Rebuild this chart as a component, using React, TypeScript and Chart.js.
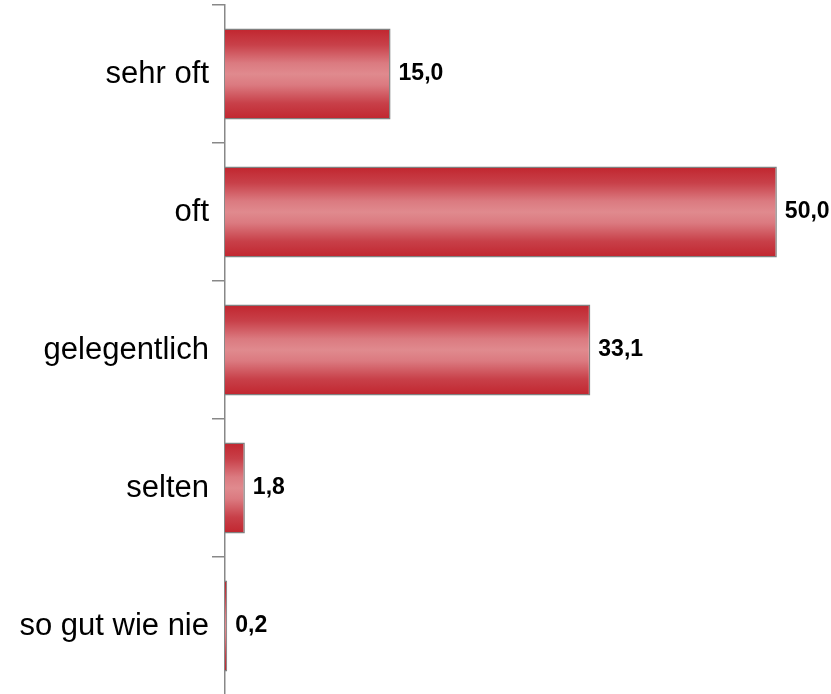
import React, { useEffect, useRef } from "react";
import { Chart, registerables } from "chart.js";

Chart.register(...registerables);

const categories = ["sehr oft", "oft", "gelegentlich", "selten", "so gut wie nie"];
const values = [15.0, 50.0, 33.1, 1.8, 0.2];

const valueLabelPlugin = {
  id: "valueLabels",
  afterDatasetsDraw(chart: any) {
    const ctx = chart.ctx;
    const meta = chart.getDatasetMeta(0);
    ctx.save();
    ctx.font = "bold 23px 'Liberation Sans', Arial, sans-serif";
    ctx.fillStyle = "#000";
    ctx.textAlign = "left";
    ctx.textBaseline = "middle";
    meta.data.forEach((el: any, i: number) => {
      const txt = values[i].toFixed(1).replace(".", ",");
      ctx.fillText(txt, Math.max(el.x, el.base) + 8, el.y);
    });
    ctx.restore();
  },
};

function barGradient(c: any) {
  const chart = c.chart;
  const y = chart.scales && chart.scales.y;
  if (!chart.chartArea || !y || c.dataIndex === undefined) return "#d05a60";
  const center = y.getPixelForValue(c.dataIndex);
  const band = (chart.chartArea.bottom - chart.chartArea.top) / categories.length;
  const half = (band * 0.66) / 2;
  const g = chart.ctx.createLinearGradient(0, center - half, 0, center + half);
  g.addColorStop(0, "#c1252e");
  g.addColorStop(0.18, "#c84049");
  g.addColorStop(0.38, "#db7a80");
  g.addColorStop(0.5, "#e08a8e");
  g.addColorStop(0.62, "#db7a80");
  g.addColorStop(0.82, "#c84049");
  g.addColorStop(1, "#c1252e");
  return g;
}

export default function App() {
  const ref = useRef<HTMLCanvasElement | null>(null);
  useEffect(() => {
    document.body.style.margin = "0";
    const chart = new Chart(ref.current as HTMLCanvasElement, {
      type: "bar",
      data: {
        labels: categories,
        datasets: [
          {
            data: values,
            backgroundColor: barGradient as any,
            borderColor: "#808080",
            borderWidth: 1.5,
            categoryPercentage: 1,
            barPercentage: 0.66,
          },
        ],
      },
      options: {
        indexAxis: "y",
        animation: false,
        responsive: false,
        maintainAspectRatio: false,
        layout: { padding: { top: 5, right: 10, bottom: 5, left: 0 } },
        plugins: { legend: { display: false }, tooltip: { enabled: false } },
        scales: {
          x: { display: false, min: 0, max: 54 },
          y: {
            afterFit(scale: any) {
              scale.width = 225;
              scale.paddingTop = 0;
              scale.paddingBottom = 0;
            },
            border: { display: true, color: "#888888", width: 1.5 },
            grid: {
              drawOnChartArea: false,
              drawTicks: true,
              tickLength: 13,
              color: "#888888",
              lineWidth: 1.5,
            },
            ticks: {
              padding: 3,
              color: "#000",
              font: { family: "'Liberation Sans', Arial, sans-serif", size: 31 },
            },
          },
        },
      },
      plugins: [valueLabelPlugin],
    });
    return () => chart.destroy();
  }, []);
  return (
    <div style={{ width: 831, height: 694, overflow: "hidden", background: "#fff" }}>
      <canvas ref={ref} width={831} height={700} style={{ display: "block" }} />
    </div>
  );
}
